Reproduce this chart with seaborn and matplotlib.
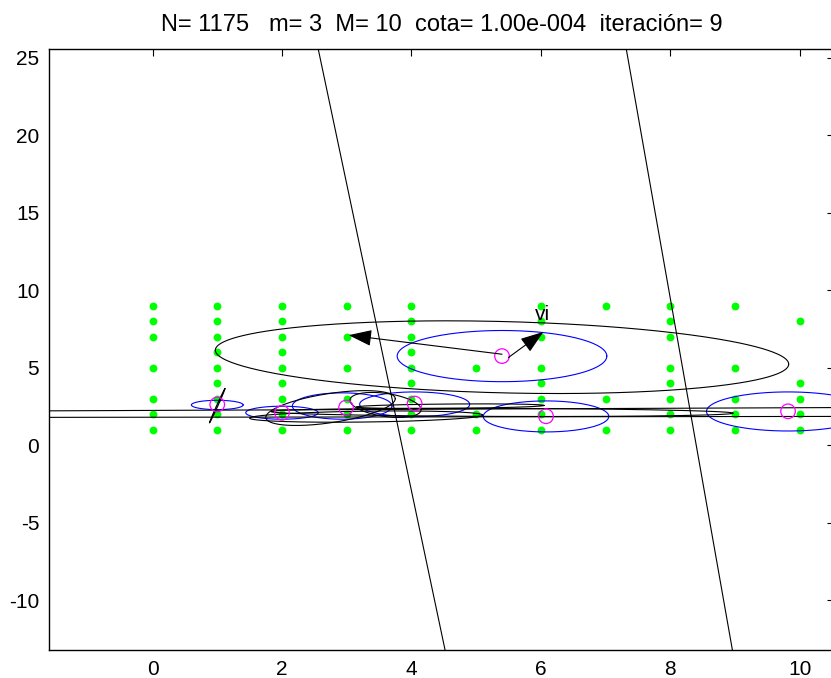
import numpy as np
import pandas as pd
import matplotlib
matplotlib.use("Agg")
import matplotlib.pyplot as plt
import seaborn as sns

# ---------------- data ----------------
title_text = "N= 1175   m= 3  M= 10  cota= 1.00e-004  iteración= 9"
x_ticks = [0, 2, 4, 6, 8, 10]
y_ticks = [-10, -5, 0, 5, 10, 15, 20, 25]
x_limits = [-1.6, 10.53]
y_limits = [-13.2, 25.55]

# grid points (green): column x -> list of y
grid_cols = {
    0: [9, 8, 7, 5, 3, 2, 1],
    1: [9, 8, 7, 6, 5, 4, 3, 2, 1],
    2: [9, 8, 7, 6, 5, 4, 3, 2, 1],
    3: [9, 7, 5, 3, 2, 1],
    4: [9, 8, 7, 6, 5, 4, 3, 2, 1],
    5: [5, 2, 1],
    6: [9, 8, 7, 5, 4, 3, 2, 1],
    7: [9, 3, 1],
    8: [9, 8, 7, 5, 4, 3, 2, 1],
    9: [9, 5, 3, 2, 1],
    10: [8, 4, 3, 2, 1],
}

# centres (magenta circles)
centre_x = [5.40, 1.00, 2.00, 2.99, 4.05, 6.08, 9.82]
centre_y = [5.75, 2.63, 2.09, 2.43, 2.69, 1.87, 2.19]

# blue ellipses: centre x, centre y, half-width, half-height
blue_cx = [5.40, 1.00, 2.00, 2.93, 4.05, 6.08, 9.82]
blue_cy = [5.75, 2.60, 2.10, 2.53, 2.64, 1.86, 2.18]
blue_a = [1.62, 0.40, 0.56, 0.77, 0.85, 0.97, 1.26]
blue_b = [1.65, 0.30, 0.42, 0.85, 0.80, 1.00, 1.26]

# big black contour: centre, half-width, half-height, shear
big_cx, big_cy = 5.40, 5.68
big_a, big_b = 4.43, 2.30
big_s = -0.45

# smaller black contours: centre x, centre y, half-width, half-height, shear
blk_cx = [1.00, 2.75, 4.60, 5.40, 3.30, 3.60]
blk_cy = [2.55, 2.40, 2.52, 2.12, 1.85, 2.60]
blk_a = [0.12, 1.00, 1.45, 3.57, 1.80, 0.55]
blk_b = [0.10, 0.95, 0.14, 0.26, 0.35, 0.75]
blk_s = [1.10, 0.60, 0.05, -0.05, 0.10, -0.30]

# long near-horizontal black lines (x0, y0, x1, y1)
hline_x0 = [-1.6, -1.6]
hline_y0 = [2.22, 1.80]
hline_x1 = [10.53, 10.53]
hline_y1 = [2.43, 1.86]

# two slanted lines (top point, bottom point)
slant_x_top = [2.56, 7.32]
slant_x_bot = [4.52, 8.96]
slant_y_top = [25.55, 25.55]
slant_y_bot = [-13.2, -13.2]

# arrows (tail -> head)
arrow_tail_x = [5.40, 5.50]
arrow_tail_y = [5.87, 5.66]
arrow_head_x = [3.03, 6.04]
arrow_head_y = [7.10, 7.31]
arrow_label = "vi"
arrow_label_pos = (6.02, 7.85)

# ---------------- figure ----------------
sns.set_theme(style="white")
plt.rcParams["font.family"] = ["Liberation Sans", "DejaVu Sans"]
plt.rcParams["axes.unicode_minus"] = False

fig = plt.figure(figsize=(8.31, 6.78), dpi=100)
ax = fig.add_axes([49 / 831, 28 / 678, (834 - 49) / 831, (650 - 49) / 678])

# grid points
gx, gy = [], []
for cx, ys in grid_cols.items():
    for yv in ys:
        gx.append(cx)
        gy.append(yv)
grid_df = pd.DataFrame({"x": gx, "y": gy})
sns.scatterplot(data=grid_df, x="x", y="y", ax=ax, color=(0, 1, 0),
                s=32, linewidth=0, zorder=2, legend=False)

t = np.linspace(0, 2 * np.pi, 360)

# blue ellipses
for cx, cy, a, b in zip(blue_cx, blue_cy, blue_a, blue_b):
    ax.plot(cx + a * np.cos(t), cy + b * np.sin(t), color=(0, 0, 1), lw=0.8, zorder=3)

# big black contour
ax.plot(big_cx + big_a * np.cos(t),
        big_cy + big_s * np.cos(t) + big_b * np.sin(t),
        color="black", lw=0.8, zorder=3)

# small black contours
for cx, cy, a, b, s in zip(blk_cx, blk_cy, blk_a, blk_b, blk_s):
    ax.plot(cx + a * np.cos(t), cy + s * np.cos(t) + b * np.sin(t),
            color="black", lw=0.8, zorder=3)

# long lines
for x0, y0, x1, y1 in zip(hline_x0, hline_y0, hline_x1, hline_y1):
    ax.plot([x0, x1], [y0, y1], color="black", lw=0.8, zorder=3)

# slanted lines
for xt, xb, yt, yb in zip(slant_x_top, slant_x_bot, slant_y_top, slant_y_bot):
    ax.plot([xt, xb], [yt, yb], color="black", lw=0.8, zorder=3)

# magenta circles
cdf = pd.DataFrame({"x": centre_x, "y": centre_y})
sns.scatterplot(data=cdf, x="x", y="y", ax=ax, marker="o", s=110,
                facecolors="none", edgecolor=(1, 0, 1), linewidth=0.9,
                zorder=4, legend=False)

# arrows
for tx, ty, hx, hy in zip(arrow_tail_x, arrow_tail_y, arrow_head_x, arrow_head_y):
    ax.annotate("", xy=(hx, hy), xytext=(tx, ty),
                arrowprops=dict(arrowstyle="-|>,head_length=1.2,head_width=0.42",
                                color="black", lw=0.8, shrinkA=0, shrinkB=0),
                zorder=5)
ax.text(arrow_label_pos[0], arrow_label_pos[1], arrow_label, fontsize=15,
        ha="center", va="bottom", color="black", zorder=6)

ax.set_xlim(x_limits)
ax.set_ylim(y_limits)
ax.set_xticks(x_ticks)
ax.set_yticks(y_ticks)
ax.set_xlabel("")
ax.set_ylabel("")
ax.tick_params(direction="in", length=5, width=0.8, top=True, right=True,
               labelsize=15, colors="black", pad=7)
for sp in ax.spines.values():
    sp.set_visible(True)
    sp.set_color("black")
    sp.set_linewidth(1.0)
ax.set_title(title_text, fontsize=17, pad=13, color="black")
ax.set_facecolor("white")
fig.patch.set_facecolor("white")

fig.savefig("out.png", dpi=100)
